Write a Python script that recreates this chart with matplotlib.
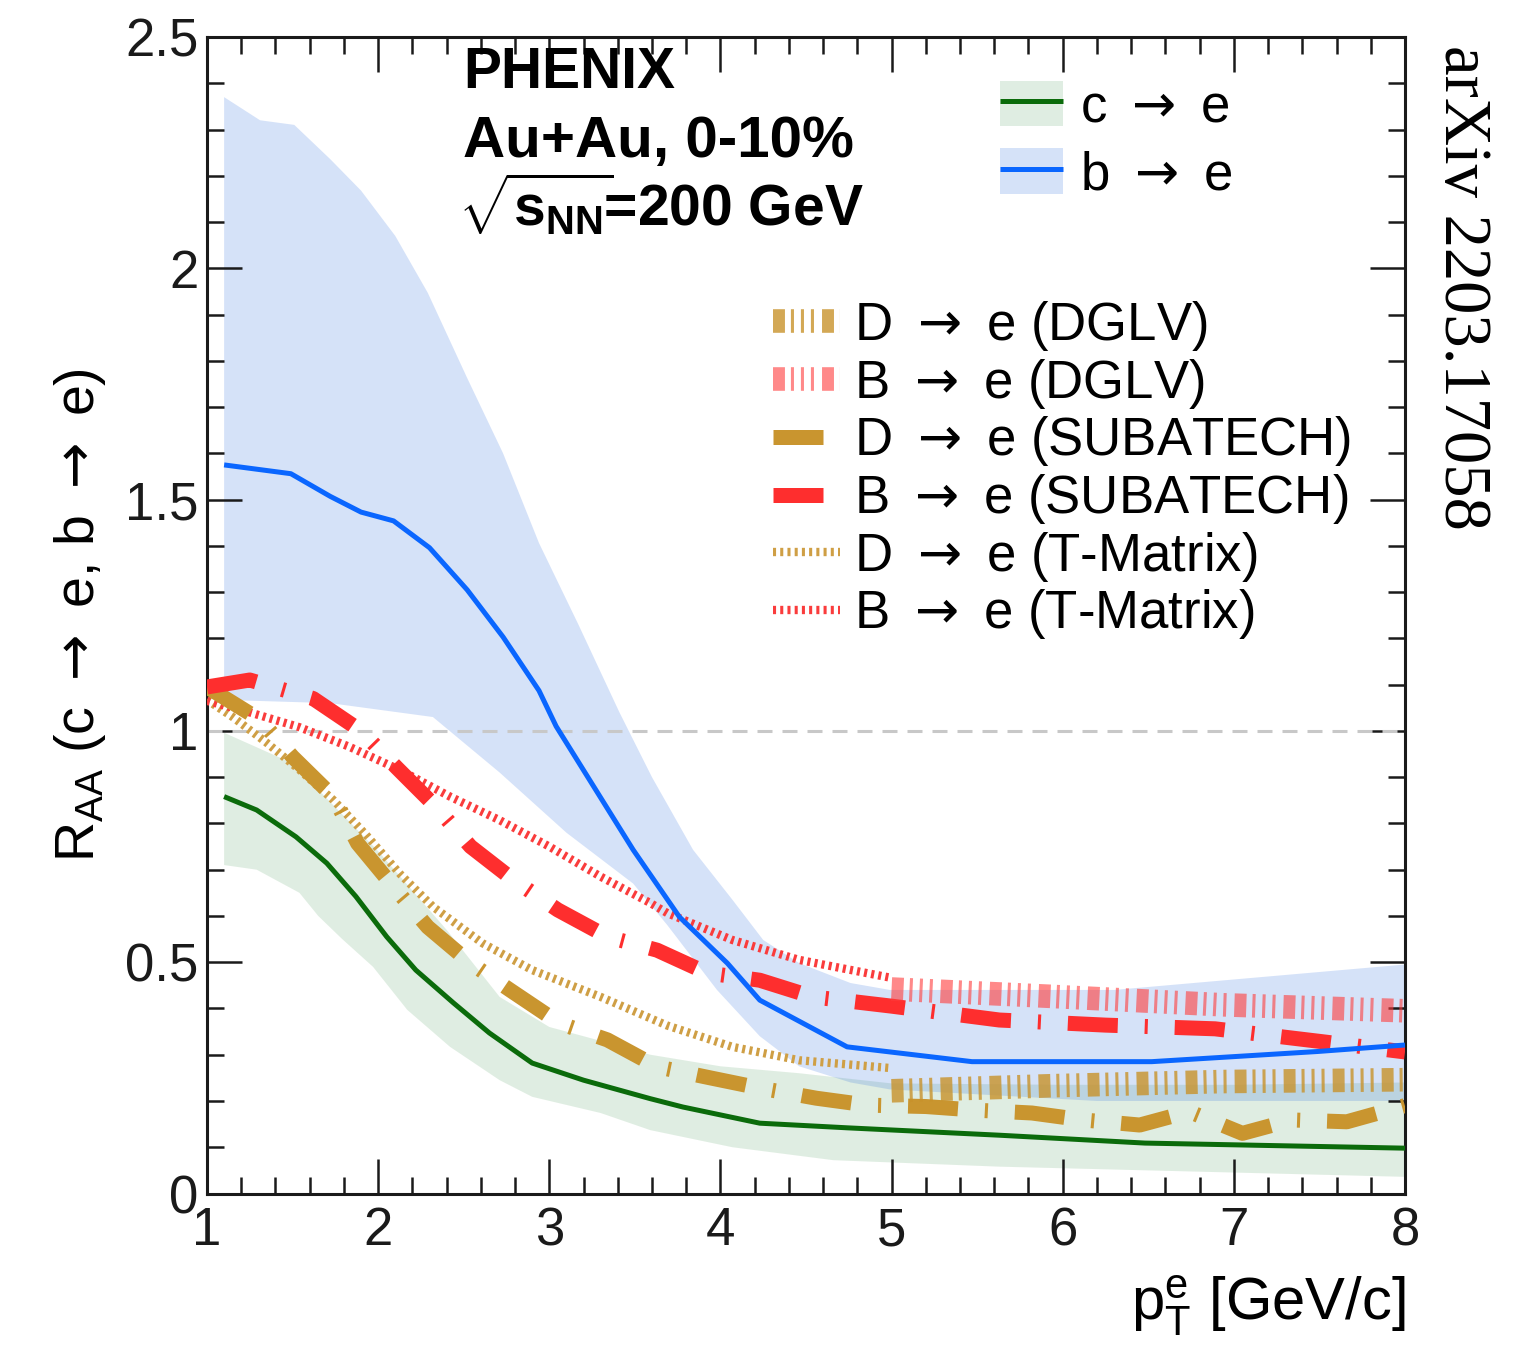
import numpy as np
import matplotlib
matplotlib.use("Agg")
import matplotlib.pyplot as plt
from matplotlib.lines import Line2D
from matplotlib.patches import Patch
from matplotlib.ticker import MultipleLocator

plt.rcParams['font.family'] = ['Liberation Sans', 'DejaVu Sans']
plt.rcParams['mathtext.fontset'] = 'custom'
plt.rcParams['mathtext.rm'] = 'Liberation Sans'
plt.rcParams['mathtext.it'] = 'Liberation Sans:italic'
plt.rcParams['mathtext.bf'] = 'Liberation Sans:bold'
plt.rcParams['lines.scale_dashes'] = False

# ---------------- data ----------------
# c -> e (measured)
c_x = [1.1, 1.29, 1.52, 1.70, 1.87, 2.05, 2.22, 2.44, 2.65, 2.90, 3.20, 3.59, 3.78, 4.23, 4.74, 5.63, 6.48, 8.0]
c_y = [0.858, 0.829, 0.771, 0.714, 0.642, 0.555, 0.483, 0.412, 0.347, 0.282, 0.245, 0.205, 0.187, 0.152, 0.142, 0.126, 0.109, 0.098]
c_up_x = [1.1, 1.5, 2.0, 2.4, 2.71, 3.0, 3.3, 3.59, 4.0, 4.46, 5.0, 6.0, 7.0, 8.0]
c_up_y = [0.996, 0.93, 0.74, 0.57, 0.425, 0.36, 0.33, 0.30, 0.275, 0.26, 0.238, 0.235, 0.235, 0.24]
c_lo_x = [1.1, 1.29, 1.54, 1.65, 1.79, 1.97, 2.17, 2.42, 2.71, 2.90, 3.30, 3.59, 4.07, 4.66, 5.63, 8.0]
c_lo_y = [0.71, 0.70, 0.65, 0.60, 0.55, 0.49, 0.397, 0.317, 0.245, 0.209, 0.174, 0.137, 0.10, 0.072, 0.058, 0.036]

# b -> e (measured)
b_x = [1.1, 1.49, 1.72, 1.9, 2.09, 2.3, 2.52, 2.73, 2.94, 3.04, 3.49, 3.76, 4.04, 4.23, 4.74, 5.47, 6.52, 7.49, 8.0]
b_y = [1.575, 1.556, 1.507, 1.473, 1.454, 1.396, 1.305, 1.203, 1.087, 1.01, 0.743, 0.598, 0.498, 0.418, 0.317, 0.285, 0.285, 0.307, 0.321]
b_up_x = [1.1, 1.31, 1.51, 1.72, 1.90, 2.10, 2.29, 2.52, 2.73, 2.94, 3.17, 3.41, 3.6, 3.84, 4.07, 4.25, 4.46, 4.76, 4.99, 6.3, 8.0]
b_up_y = [2.37, 2.32, 2.31, 2.236, 2.168, 2.07, 1.947, 1.763, 1.6, 1.406, 1.23, 1.04, 0.90, 0.743, 0.635, 0.548, 0.498, 0.455, 0.44, 0.44, 0.495]
b_lo_x = [1.1, 1.72, 2.32, 2.71, 3.10, 3.49, 3.69, 3.98, 4.23, 4.46, 4.76, 4.99, 6.2, 8.0]
b_lo_y = [1.067, 1.06, 1.03, 0.91, 0.78, 0.67, 0.58, 0.44, 0.34, 0.275, 0.24, 0.225, 0.20, 0.20]

# DGLV (band centres)
dglv_x = [5.0, 5.94, 6.93, 8.0]
D_dglv = [0.222, 0.233, 0.242, 0.246]
B_dglv = [0.442, 0.426, 0.408, 0.395]

# SUBATECH
D_sub_x = [1.0, 1.31, 1.50, 1.74, 1.88, 2.09, 2.29, 2.54, 2.77, 3.06, 3.34, 3.63, 3.94, 4.23, 4.56, 4.86,
           5.2, 5.5, 5.82, 6.12, 6.45, 6.74, 7.05, 7.34, 7.66, 8.0]
D_sub_y = [1.095, 1.024, 0.944, 0.857, 0.757, 0.663, 0.576, 0.498, 0.44, 0.368, 0.332, 0.274, 0.25, 0.228, 0.206, 0.191,
           0.188, 0.18, 0.174, 0.159, 0.148, 0.177, 0.13, 0.159, 0.155, 0.19]
B_sub_x = [1.0, 1.25, 1.62, 1.90, 2.11, 2.34, 2.54, 2.79, 3.05, 3.34, 3.63, 3.92, 4.23, 4.54, 5.0, 5.63, 6.25, 6.89, 7.52, 8.0]
B_sub_y = [1.095, 1.11, 1.07, 1.0, 0.92, 0.835, 0.75, 0.678, 0.613, 0.555, 0.526, 0.477, 0.461, 0.425, 0.405, 0.375, 0.364, 0.356, 0.328, 0.306]

# T-Matrix
D_tm_x = [1.0, 1.15, 1.35, 1.54, 1.74, 1.93, 2.13, 2.32, 2.61, 2.90, 3.30, 3.69, 4.07, 4.46, 5.0]
D_tm_y = [1.067, 1.03, 0.974, 0.916, 0.85, 0.775, 0.69, 0.62, 0.541, 0.483, 0.425, 0.363, 0.317, 0.288, 0.271]
B_tm_x = [1.0, 1.25, 1.54, 1.83, 2.13, 2.42, 2.71, 3.0, 3.3, 3.59, 3.69, 4.07, 4.46, 5.0]
B_tm_y = [1.065, 1.04, 1.008, 0.966, 0.915, 0.858, 0.807, 0.75, 0.685, 0.628, 0.606, 0.548, 0.505, 0.466]

xticks = [1, 2, 3, 4, 5, 6, 7, 8]
xtick_labels = ['1', '2', '3', '4', '5', '6', '7', '8']
yticks = [0, 0.5, 1, 1.5, 2, 2.5]
ytick_labels = ['0', '0.5', '1', '1.5', '2', '2.5']

ARROW = r'$\rightarrow$'
labels_models = ['D ' + ARROW + ' e (DGLV)', 'B ' + ARROW + ' e (DGLV)', 'D ' + ARROW + ' e (SUBATECH)',
                 'B ' + ARROW + ' e (SUBATECH)', 'D ' + ARROW + ' e (T-Matrix)', 'B ' + ARROW + ' e (T-Matrix)']
labels_meas = ['c ' + ARROW + ' e', 'b ' + ARROW + ' e']

# ---------------- style ----------------
GREEN = '#0b6b0b'
GREEN_BAND = '#2e8b3e'
BLUE = '#0a66ff'
BLUE_BAND = '#2f6fe0'
GOLD = '#c9952f'
GOLD_TM = '#cf9f45'
RED = '#fe2e2e'
RED_TM = '#fa3c3c'

fig = plt.figure(figsize=(15.27, 13.46), dpi=100)
L, R, B, T = 207, 1405, 1193.5, 37
ax = fig.add_axes([L / 1527, 1 - B / 1346, (R - L) / 1527, (B - T) / 1346])

# bands
ax.fill(np.r_[c_up_x, c_lo_x[::-1]], np.r_[c_up_y, c_lo_y[::-1]], color=GREEN_BAND, alpha=0.15, lw=0, zorder=1)
ax.fill(np.r_[b_up_x, b_lo_x[::-1]], np.r_[b_up_y, b_lo_y[::-1]], color=BLUE_BAND, alpha=0.2, lw=0, zorder=1)

ax.axhline(1.0, color='#c8c8c8', lw=2.2, ls=(0, (10.8, 7.2)), zorder=2)

# T-Matrix (dotted)
h_dtm, = ax.plot(D_tm_x, D_tm_y, color=GOLD_TM, lw=6, ls=(0, (2.2, 3.0)), zorder=3)
h_btm, = ax.plot(B_tm_x, B_tm_y, color=RED_TM, lw=6, ls=(0, (2.2, 3.0)), zorder=3)

# SUBATECH (thick dash-dot)
sub_ls = (0, (36, 19.4, 2.2, 19.4))
h_dsub, = ax.plot(D_sub_x, D_sub_y, color=GOLD, lw=10.8, ls=sub_ls, zorder=4)
h_bsub, = ax.plot(B_sub_x, B_sub_y, color=RED, lw=10.8, ls=sub_ls, zorder=4)

# DGLV (band-like hatched)
dglv_ls = (0, (8.6, 4.3, 2.2, 5.0, 2.2, 5.0, 2.2, 5.8))
h_ddglv, = ax.plot(dglv_x, D_dglv, color='#c8922a', alpha=0.8, lw=17, ls=dglv_ls, zorder=5)
h_bdglv, = ax.plot(dglv_x, B_dglv, color='#ff3b3b', alpha=0.6, lw=17, ls=dglv_ls, zorder=5)

# measured curves
h_c, = ax.plot(c_x, c_y, color=GREEN, lw=3.6, solid_capstyle='butt', zorder=6)
h_b, = ax.plot(b_x, b_y, color=BLUE, lw=3.6, solid_capstyle='butt', zorder=6)

# axes
ax.set_xlim(1, 8)
ax.set_ylim(0, 2.5)
ax.set_xticks(xticks)
ax.set_xticklabels(xtick_labels)
ax.set_yticks(yticks)
ax.set_yticklabels(ytick_labels)
ax.xaxis.set_minor_locator(MultipleLocator(0.2))
ax.yaxis.set_minor_locator(MultipleLocator(0.1))
ax.tick_params(which='both', direction='in', top=True, right=True, width=1.8, colors='#1a1a1a')
ax.tick_params(which='major', length=25)
ax.tick_params(which='minor', length=12.5)
ax.tick_params(axis='x', which='major', labelsize=38, pad=9)
ax.tick_params(axis='y', which='major', labelsize=38, pad=6)
for s in ax.spines.values():
    s.set_linewidth(2.2)
    s.set_color('#1a1a1a')

ax.text(1.0, -0.109, r'p$_{\mathregular{T}}^{\mathregular{e}}$ [GeV/c]', transform=ax.transAxes,
        ha='right', va='baseline', fontsize=43)
ylab = ax.text(-0.106, 0.5, r'R$_{\mathregular{AA}}$ (c ' + ARROW + ' e, b ' + ARROW + ' e)',
               transform=ax.transAxes, rotation=90, ha='center', va='center', fontsize=40)
ylab.set_math_fontfamily('dejavusans')

# header text
ax.text(0.2137, 0.956, 'PHENIX', transform=ax.transAxes, fontsize=41, fontweight='bold', va='baseline')
ax.text(0.2137, 0.896, 'Au+Au, 0-10%', transform=ax.transAxes, fontsize=42, fontweight='bold', va='baseline')
ax.text(0.2137, 0.8366, r'$\!\sqrt{\mathbf{s}_{\mathbf{NN}}}\!$=200 GeV', transform=ax.transAxes, fontsize=41,
        fontweight='bold', va='baseline')

# legends
fs = 38
band_c = Patch(facecolor=GREEN_BAND, alpha=0.15, edgecolor='none')
band_b = Patch(facecolor=BLUE_BAND, alpha=0.2, edgecolor='none')
leg1 = ax.legend([(band_c, h_c), (band_b, h_b)], labels_meas,
                 loc='upper left', bbox_to_anchor=(0.662, 0.962), frameon=False, fontsize=fs,
                 borderpad=0, borderaxespad=0, handlelength=1.19, handleheight=0.95,
                 handletextpad=0.32, labelspacing=0.29)
leg1.set_zorder(10)
for t in leg1.get_texts():
    t.set_math_fontfamily('dejavusans')
ax.add_artist(leg1)

leg2 = ax.legend([h_ddglv, h_bdglv, h_dsub, h_bsub, h_dtm, h_btm], labels_models,
                 loc='upper left', bbox_to_anchor=(0.4725, 0.7735), frameon=False, fontsize=fs,
                 borderpad=0, borderaxespad=0, handlelength=1.27, handletextpad=0.27, labelspacing=0.07)
leg2.set_zorder(10)
for t in leg2.get_texts():
    t.set_math_fontfamily('dejavusans')

fig.text(1462 / 1527, 1 - 45 / 1346, 'arXiv 2203.17058', rotation=270, ha='center', va='top',
         family='Liberation Serif', fontsize=48)

fig.savefig('out.png', dpi=100, facecolor='white')
